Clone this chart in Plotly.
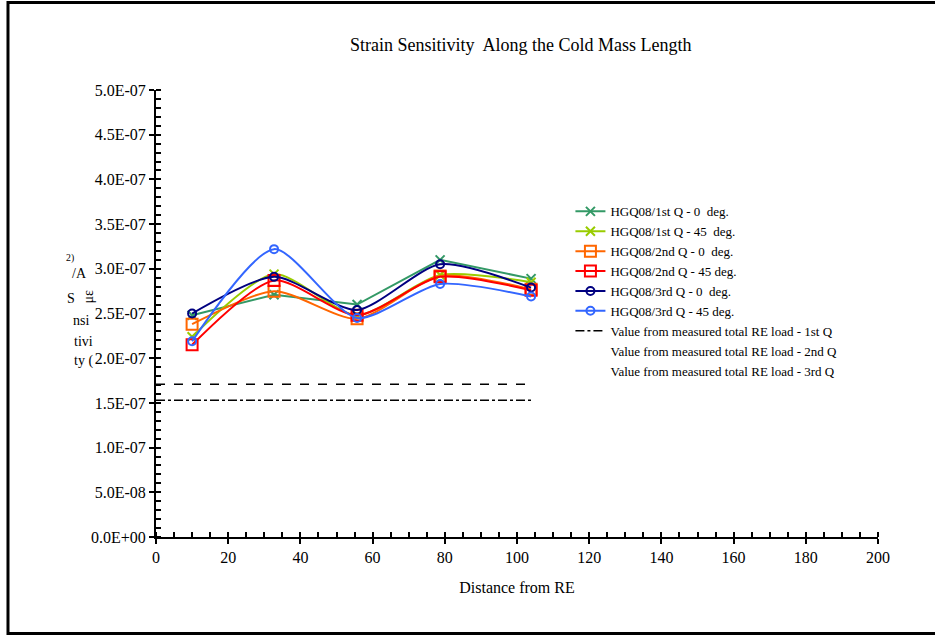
import plotly.graph_objects as go

# ---------------- data ----------------
distance = [10.0, 32.7, 55.7, 78.7, 103.9]

q1_0 = [2.48e-7, 2.71e-7, 2.60e-7, 3.10e-7, 2.89e-7]
q1_45 = [2.24e-7, 2.94e-7, 2.48e-7, 2.93e-7, 2.85e-7]
q2_0 = [2.38e-7, 2.75e-7, 2.44e-7, 2.92e-7, 2.77e-7]
q2_45 = [2.15e-7, 2.87e-7, 2.48e-7, 2.91e-7, 2.76e-7]
q3_0 = [2.50e-7, 2.91e-7, 2.54e-7, 3.05e-7, 2.79e-7]
q3_45 = [2.19e-7, 3.22e-7, 2.45e-7, 2.83e-7, 2.69e-7]

ref_x = [0, 104]
ref_q1 = [1.53e-7, 1.53e-7]
ref_q2 = [1.71e-7, 1.71e-7]

y_tickvals = [0, 5e-8, 1e-7, 1.5e-7, 2e-7, 2.5e-7, 3e-7, 3.5e-7, 4e-7, 4.5e-7, 5e-7]
y_ticktext = ["0.0E+00", "5.0E-08", "1.0E-07", "1.5E-07", "2.0E-07", "2.5E-07",
              "3.0E-07", "3.5E-07", "4.0E-07", "4.5E-07", "5.0E-07"]
x_tickvals = [0, 20, 40, 60, 80, 100, 120, 140, 160, 180, 200]

FONT = "Liberation Serif"

series = [
    ("HGQ08/1st Q - 0  deg.", q1_0, "#339966", "x-thin-open", 9, "linear"),
    ("HGQ08/1st Q - 45  deg.", q1_45, "#99CC00", "x-thin-open", 9, "spline"),
    ("HGQ08/2nd Q - 0  deg.", q2_0, "#FF6600", "square-open", 11, "spline"),
    ("HGQ08/2nd Q - 45 deg.", q2_45, "#FF0000", "square-open", 11, "spline"),
    ("HGQ08/3rd Q - 0  deg.", q3_0, "#000080", "circle-open", 8, "spline"),
    ("HGQ08/3rd Q - 45 deg.", q3_45, "#3366FF", "circle-open", 8, "spline"),
]

fig = go.Figure()
for name, ys, col, sym, sz, shape in series:
    fig.add_trace(go.Scatter(
        x=distance, y=ys, name=name, mode="lines+markers",
        line=dict(color=col, width=2, shape=shape, smoothing=0.7),
        marker=dict(symbol=sym, size=sz, color=col, line=dict(color=col, width=2)),
    ))

fig.add_trace(go.Scatter(
    x=ref_x, y=ref_q1, name="Value from measured total RE load - 1st Q",
    mode="lines", line=dict(color="black", width=1.5, dash="dashdot"),
))
fig.add_trace(go.Scatter(
    x=ref_x, y=ref_q2, name="Value from measured total RE load - 2nd Q",
    mode="lines", line=dict(color="black", width=1.5, dash="dash"), showlegend=False,
))
# legend entries without a visible symbol (as in the reference)
for nm in ["Value from measured total RE load - 2nd Q", "Value from measured total RE load - 3rd Q"]:
    fig.add_trace(go.Scatter(
        x=[None], y=[None], name=nm, mode="lines",
        line=dict(color="rgba(0,0,0,0)", width=1),
    ))

fig.update_layout(
    width=935, height=636,
    margin=dict(l=156, r=57, t=90, b=99),
    paper_bgcolor="white", plot_bgcolor="white",
    font=dict(family=FONT, size=16, color="black"),
    title=dict(text="Strain Sensitivity  Along the Cold Mass Length",
               x=0.557, xanchor="center", y=0.929, yanchor="middle",
               font=dict(family=FONT, size=18, color="black")),
    showlegend=True,
    legend=dict(x=0.574, y=0.762, xanchor="left", yanchor="top",
                font=dict(family=FONT, size=13, color="black"),
                bgcolor="rgba(0,0,0,0)", tracegroupgap=0, itemwidth=30),
    xaxis=dict(range=[0, 200], tickvals=x_tickvals, showgrid=False, zeroline=False,
               showline=True, linecolor="black", linewidth=2,
               ticks="outside", ticklen=5, tickwidth=2, tickcolor="black",
               minor=dict(dtick=5, ticks="inside", ticklen=5, tickwidth=2, tickcolor="black"),
               title=dict(text="Distance from RE", standoff=17,
                          font=dict(family=FONT, size=16)),
               tickfont=dict(family=FONT, size=16)),
    yaxis=dict(range=[0, 5e-7], tickvals=y_tickvals, ticktext=y_ticktext,
               showgrid=False, zeroline=False,
               showline=True, linecolor="black", linewidth=2,
               ticks="outside", ticklen=5, tickwidth=2, tickcolor="black",
               minor=dict(dtick=1e-8, ticks="inside", ticklen=5, tickwidth=2, tickcolor="black"),
               tickfont=dict(family=FONT, size=16)),
)

# outer frame
fig.add_shape(type="rect", xref="paper", yref="paper",
              x0=-0.205, x1=1.12, y0=-0.216, y1=1.196,
              line=dict(color="black", width=3), fillcolor="rgba(0,0,0,0)", layer="below")

# garbled y-axis title fragments (as rendered in reference)
frags = [
    ("<sup>2)</sup>", 64, 258, 0),
    ("/A", 70, 273, 0),
    ("S", 65, 298, 0),
    ("μɛ", 78, 297, -90),
    ("nsi", 71, 320, 0),
    ("tivi", 72, 341, 0),
    ("ty (", 72, 361, 0),
]
for txt, px, py, ang in frags:
    fig.add_annotation(text=txt, xref="paper", yref="paper",
                       x=(px - 156) / 722, y=(537 - py) / 447,
                       showarrow=False, textangle=ang,
                       font=dict(family=FONT, size=14, color="black"))

fig.write_html("out.html")
